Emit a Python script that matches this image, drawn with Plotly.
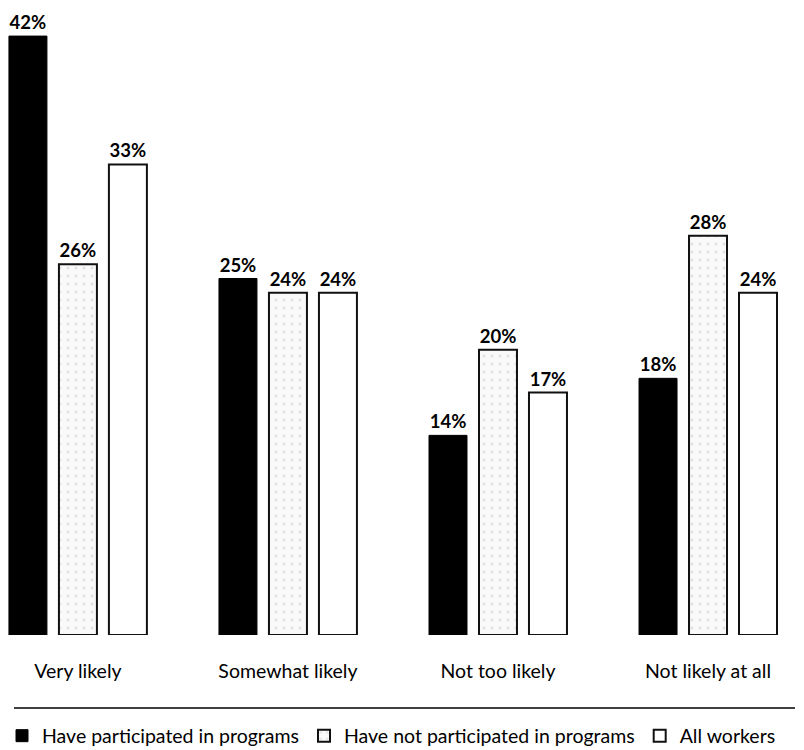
import plotly.graph_objects as go

# Likelihood responses and the share of workers giving each answer (%)
categories = ["Very likely", "Somewhat likely", "Not too likely", "Not likely at all"]
participated = [42, 25, 14, 18]
not_participated = [26, 24, 20, 28]
all_workers = [33, 24, 17, 24]
series_names = [
    "Have participated in programs",
    "Have not participated in programs",
    "All workers",
]

W, H = 804, 750
FONT = "Lato, 'Open Sans', sans-serif"

fig = go.Figure()

fig.add_trace(go.Bar(
    name=series_names[0], x=categories, y=participated,
    marker=dict(color="#000000", line=dict(color="#000000", width=1)),
))
fig.add_trace(go.Bar(
    name=series_names[1], x=categories, y=not_participated,
    marker=dict(
        color="#f6f6f6",
        line=dict(color="#111111", width=2),
        pattern=dict(shape=".", fgcolor="#c8c8c8", bgcolor="#f9f9f9",
                     size=8, solidity=0.1),
    ),
))
fig.add_trace(go.Bar(
    name=series_names[2], x=categories, y=all_workers,
    marker=dict(color="#ffffff", line=dict(color="#111111", width=2)),
))

fig.update_traces(
    texttemplate="<b>%{y}%</b>",
    textposition="outside",
    textfont=dict(family=FONT, size=18.5, color="#000000"),
    cliponaxis=False,
)

plot_bottom = 635  # pixel row of the zero line
fig.update_layout(
    width=W, height=H,
    margin=dict(l=0, r=0, t=0, b=H - plot_bottom, autoexpand=False),
    paper_bgcolor="white", plot_bgcolor="white",
    barmode="group", bargap=0.286, bargroupgap=0.24,
    font=dict(family=FONT, size=19.5, color="#000000"),
    showlegend=True,
    legend=dict(
        orientation="h", x=0.0025, xanchor="left",
        y=(plot_bottom - 736) / plot_bottom, yanchor="middle",
        font=dict(family=FONT, size=19.5, color="#000000"),
        traceorder="normal", itemclick=False,
    ),
    xaxis=dict(
        range=[-0.371, 3.457], showgrid=False, zeroline=False, showline=False,
        ticks="", ticklabelstandoff=22,
        tickfont=dict(family=FONT, size=19.5, color="#000000"),
    ),
    yaxis=dict(range=[0, 44.53], visible=False),
    shapes=[dict(
        type="line", xref="paper", yref="paper",
        x0=14 / W, x1=795 / W,
        y0=(plot_bottom - 708) / plot_bottom, y1=(plot_bottom - 708) / plot_bottom,
        line=dict(color="#000000", width=1.5),
    )],
)

fig.write_html("out.html")
